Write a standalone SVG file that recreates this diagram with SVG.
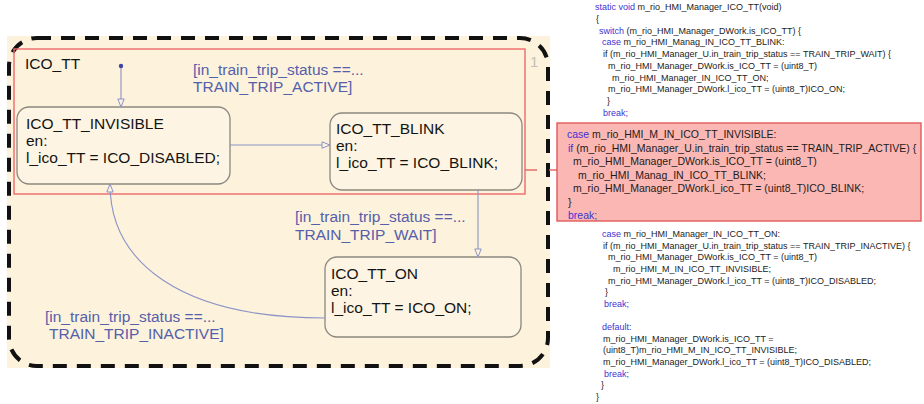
<svg xmlns="http://www.w3.org/2000/svg" width="924" height="404" viewBox="0 0 924 404">
  <defs>
    <marker id="open-arrow" markerUnits="userSpaceOnUse" markerWidth="10" markerHeight="10" viewBox="0 0 10 8" refX="9" refY="4" orient="auto">
      <path d="M1,0.8 L9,4 L1,7.2 Z" fill="#fdf3df" stroke="#8c93c6" stroke-width="1"/>
    </marker>
    <style>
      .state { fill: #fdf4e3; stroke: #8b887f; stroke-width: 1.3; }
      .st { font-family: "Liberation Sans", Arial, sans-serif; font-size: 15.5px; fill: #141414; }
      .guard { font-family: "Liberation Sans", Arial, sans-serif; font-size: 15.5px; fill: #5560aa; }
      .tr { fill: none; stroke: #8c93c6; stroke-width: 1.1; }
      .code { font-family: "Liberation Sans", Arial, sans-serif; font-size: 9px; fill: #1c1c1c; }
      .code-hi { font-family: "Liberation Sans", Arial, sans-serif; font-size: 10.5px; fill: #1c1c1c; }
      .kw { fill: #3f33d2; }
      .hl { fill: none; stroke: #ee6a6a; stroke-width: 1.4; }
    </style>
  </defs>

  <rect width="924" height="404" fill="#ffffff"/>

  <!-- chart canvas -->
  <rect x="7" y="36" width="543" height="332" fill="#fdf2dc"/>

  <!-- superstate ICO_TT -->
  <g id="ico_tt">
    <rect x="9" y="38" width="539" height="328" rx="28" ry="28" fill="none" stroke="#111" stroke-width="4" stroke-dasharray="14 10"/>
    <text class="st" x="25" y="69">ICO_TT</text>
    <text x="530" y="67" font-family="Liberation Sans, Arial, sans-serif" font-size="15" fill="#c4c0b8">1</text>
  </g>

  <!-- highlighted region -->
  <rect class="hl" x="14" y="49" width="511" height="145"/>

  <g id="ico_tt_invisible">
    <rect class="state" x="17" y="107" width="213" height="77" rx="12"/>
    <text class="st" x="26" y="129">ICO_TT_INVISIBLE</text>
    <text class="st" x="26" y="146">en:</text>
    <text class="st" x="26" y="163">l_ico_TT = ICO_DISABLED;</text>
  </g>

  <g id="ico_tt_blink">
    <rect class="state" x="330" y="113" width="192" height="77" rx="12"/>
    <text class="st" x="336" y="134">ICO_TT_BLINK</text>
    <text class="st" x="336" y="151">en:</text>
    <text class="st" x="336" y="168">l_ico_TT = ICO_BLINK;</text>
  </g>

  <g id="ico_tt_on">
    <rect class="state" x="325" y="257" width="196" height="80" rx="12"/>
    <text class="st" x="331" y="279">ICO_TT_ON</text>
    <text class="st" x="331" y="296">en:</text>
    <text class="st" x="331" y="313">l_ico_TT = ICO_ON;</text>
  </g>

  <!-- transitions -->
  <g id="transitions">
    <circle cx="121" cy="66" r="2.2" fill="#3c46a0"/>
    <path class="tr" d="M121,68 V107" marker-end="url(#open-arrow)"/>
    <path class="tr" d="M230,145 H330" marker-end="url(#open-arrow)"/>
    <path class="tr" d="M478,190 V257" marker-end="url(#open-arrow)"/>
    <path class="tr" d="M325,318 C180,318 110,262 110,184" marker-end="url(#open-arrow)"/>
    <text class="guard" x="193" y="75">[in_train_trip_status ==...</text>
    <text class="guard" x="193" y="92">TRAIN_TRIP_ACTIVE]</text>
    <text class="guard" x="295" y="222">[in_train_trip_status ==...</text>
    <text class="guard" x="295" y="240">TRAIN_TRIP_WAIT]</text>
    <text class="guard" x="45" y="322">[in_train_trip_status ==...</text>
    <text class="guard" x="49" y="339">TRAIN_TRIP_INACTIVE]</text>
    <!-- link from highlighted region to its generated code -->
    <path d="M525,170 H537 M549,170 H557" fill="none" stroke="#e86a6a" stroke-width="1.4"/>
  </g>

  <!-- generated C code -->
  <g id="code">
    <rect x="557" y="123" width="364" height="98" fill="#fbb7b4" stroke="#e25a5a" stroke-width="1.4"/>

    <text class="code" x="595" y="10"><tspan class="kw">static void</tspan> m_rio_HMI_Manager_ICO_TT(void)</text>
    <text class="code" x="596" y="21.75">{</text>
    <text class="code" x="599" y="33.5"><tspan class="kw">switch</tspan> (m_rio_HMI_Manager_DWork.is_ICO_TT) {</text>
    <text class="code" x="602" y="45.25"><tspan class="kw">case</tspan> m_rio_HMI_Manag_IN_ICO_TT_BLINK:</text>
    <text class="code" x="603" y="57">if (m_rio_HMI_Manager_U.in_train_trip_status == TRAIN_TRIP_WAIT) {</text>
    <text class="code" x="608" y="68.75">m_rio_HMI_Manager_DWork.is_ICO_TT = (uint8_T)</text>
    <text class="code" x="612" y="80.5">m_rio_HMI_Manager_IN_ICO_TT_ON;</text>
    <text class="code" x="608" y="92.25">m_rio_HMI_Manager_DWork.l_ico_TT = (uint8_T)ICO_ON;</text>
    <text class="code" x="607" y="104">}</text>
    <text class="code kw" x="603" y="115.75">break;</text>

    <text class="code-hi" x="567" y="138"><tspan class="kw">case</tspan> m_rio_HMI_M_IN_ICO_TT_INVISIBLE:</text>
    <text class="code-hi" x="568" y="151.5"><tspan class="kw">if</tspan> (m_rio_HMI_Manager_U.in_train_trip_status == TRAIN_TRIP_ACTIVE) {</text>
    <text class="code-hi" x="573" y="165">m_rio_HMI_Manager_DWork.is_ICO_TT = (uint8_T)</text>
    <text class="code-hi" x="578" y="178.5">m_rio_HMI_Manag_IN_ICO_TT_BLINK;</text>
    <text class="code-hi" x="573" y="192">m_rio_HMI_Manager_DWork.l_ico_TT = (uint8_T)ICO_BLINK;</text>
    <text class="code-hi" x="568" y="205.5">}</text>
    <text class="code-hi kw" x="568" y="219">break;</text>

    <text class="code" x="602" y="237"><tspan class="kw">case</tspan> m_rio_HMI_Manager_IN_ICO_TT_ON:</text>
    <text class="code" x="603" y="248.6">if (m_rio_HMI_Manager_U.in_train_trip_status == TRAIN_TRIP_INACTIVE) {</text>
    <text class="code" x="608" y="260.3">m_rio_HMI_Manager_DWork.is_ICO_TT = (uint8_T)</text>
    <text class="code" x="613" y="271.9">m_rio_HMI_M_IN_ICO_TT_INVISIBLE;</text>
    <text class="code" x="608" y="283.6">m_rio_HMI_Manager_DWork.l_ico_TT = (uint8_T)ICO_DISABLED;</text>
    <text class="code" x="605" y="295.2">}</text>
    <text class="code kw" x="604" y="306.8">break;</text>
    <text class="code kw" x="602" y="330.1">default:</text>
    <text class="code" x="603" y="341.8">m_rio_HMI_Manager_DWork.is_ICO_TT =</text>
    <text class="code" x="603" y="353.4">(uint8_T)m_rio_HMI_M_IN_ICO_TT_INVISIBLE;</text>
    <text class="code" x="603" y="365">m_rio_HMI_Manager_DWork.l_ico_TT = (uint8_T)ICO_DISABLED;</text>
    <text class="code kw" x="604" y="376.7">break;</text>
    <text class="code" x="601" y="388.3">}</text>
    <text class="code" x="596" y="400">}</text>
  </g>
</svg>
